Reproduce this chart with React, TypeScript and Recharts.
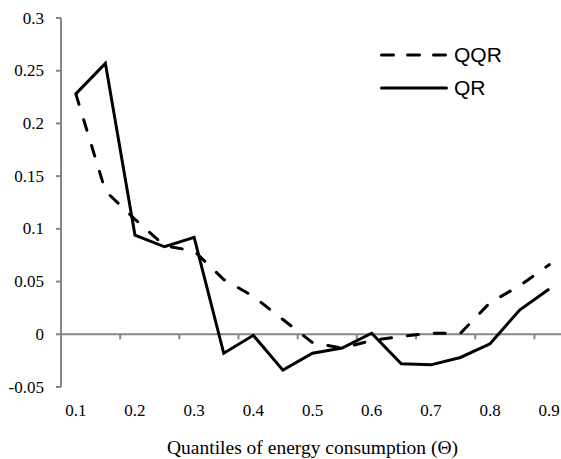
import React from "react";
import {
  LineChart,
  Line,
  XAxis,
  YAxis,
  ReferenceLine,
} from "recharts";

const quantiles = [0.1, 0.15, 0.2, 0.25, 0.3, 0.35, 0.4, 0.45, 0.5, 0.55, 0.6, 0.65, 0.7, 0.75, 0.8, 0.85, 0.9];
const qqrValues = [0.228, 0.136, 0.109, 0.084, 0.079, 0.052, 0.036, 0.014, -0.008, -0.013, -0.006, -0.002, 0.001, 0.001, 0.03, 0.046, 0.066];
const qrValues = [0.228, 0.257, 0.094, 0.083, 0.092, -0.018, -0.001, -0.034, -0.018, -0.013, 0.001, -0.028, -0.029, -0.022, -0.009, 0.023, 0.043];
const xLabelTicks = [0.1, 0.2, 0.3, 0.4, 0.5, 0.6, 0.7, 0.8, 0.9];
const xBoundaryTicks = [0.175, 0.275, 0.375, 0.475, 0.575, 0.675, 0.775, 0.875];
const yTicks = [-0.05, 0, 0.05, 0.1, 0.15, 0.2, 0.25, 0.3];
const seriesNames = ["QQR", "QR"];

const data = quantiles.map((q, i) => ({ q, qqr: qqrValues[i], qr: qrValues[i] }));

const AXIS = "#868686";
const SERIF = "'Liberation Serif', 'Times New Roman', serif";
const DASH = "11 16";

const XTick = ({ x, y, payload }: any) => (
  <text x={x} y={y} dy={11} textAnchor="middle" style={{ fontFamily: SERIF, fontSize: 17, fill: "#000" }}>
    {String(payload.value)}
  </text>
);

const YTick = ({ x, y, payload }: any) => (
  <text x={x} y={y} dy={5.5} textAnchor="end" style={{ fontFamily: SERIF, fontSize: 17, fill: "#000" }}>
    {String(payload.value)}
  </text>
);

// legend drawn as an overlay so it doesn't eat plot space
const ChartLegend = () => (
  <div
    style={{
      position: "absolute",
      left: 380,
      top: 38,
      fontFamily: "'Liberation Sans', Arial, sans-serif",
      fontSize: 21,
      color: "#000",
    }}
  >
    {seriesNames.map((name, i) => (
      <div key={name} style={{ display: "flex", alignItems: "center", height: 33 }}>
        <svg width={68} height={6} style={{ marginRight: 6 }}>
          <line
            x1={1.5}
            y1={3}
            x2={66.5}
            y2={3}
            stroke="#000"
            strokeWidth={3}
            strokeLinecap="round"
            strokeDasharray={i === 0 ? "12 14" : undefined}
          />
        </svg>
        <span>{name}</span>
      </div>
    ))}
  </div>
);

export default function App() {
  return (
    <div style={{ width: 561, height: 459, overflow: "hidden", position: "relative", background: "#fff" }}>
      <style>{"body{margin:0}"}</style>
      <LineChart width={570} height={459} data={data} margin={{ top: 18, right: 6, left: 0, bottom: 42 }}>
        <XAxis
          dataKey="q"
          type="number"
          domain={[0.075, 0.925]}
          ticks={xLabelTicks}
          allowDataOverflow
          axisLine={false}
          tickLine={false}
          tickSize={6}
          tickMargin={12}
          height={30}
          tick={<XTick />}
          label={{
            value: "Quantiles of energy consumption (Θ)",
            position: "bottom",
            offset: 23,
            style: { fontFamily: SERIF, fontSize: 19.5, fill: "#000" },
          }}
        />
        <YAxis
          type="number"
          domain={[-0.05, 0.3]}
          ticks={yTicks}
          width={61}
          axisLine={{ stroke: AXIS, strokeWidth: 2 }}
          tickLine={{ stroke: AXIS, strokeWidth: 2 }}
          tickSize={5}
          tickMargin={12}
          tick={<YTick />}
        />
        <ReferenceLine y={0} stroke={AXIS} strokeWidth={2} />
        {xBoundaryTicks.map((v) => (
          <ReferenceLine
            key={v}
            segment={[{ x: v, y: 0 }, { x: v, y: -0.0048 }]}
            stroke={AXIS}
            strokeWidth={2}
          />
        ))}
        <Line dataKey="qqr" name="QQR" stroke="#000" strokeWidth={3} strokeLinecap="round" strokeDasharray={DASH} dot={false} isAnimationActive={false} />
        <Line dataKey="qr" name="QR" stroke="#000" strokeWidth={3} dot={false} isAnimationActive={false} />
      </LineChart>
      <ChartLegend />
    </div>
  );
}
